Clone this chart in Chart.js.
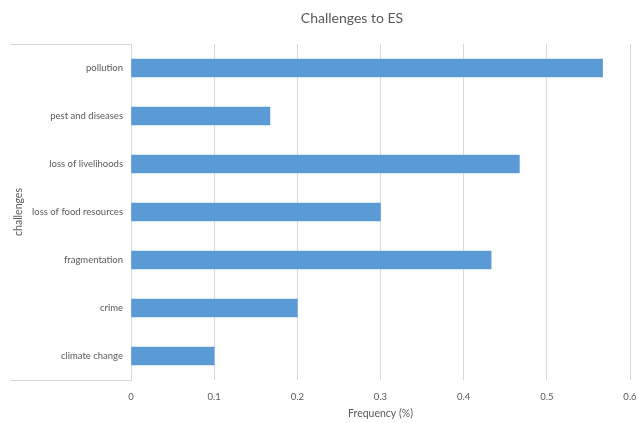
<!DOCTYPE html>
<html>
<head>
<meta charset="utf-8">
<script src="https://cdn.jsdelivr.net/npm/chart.js@4/dist/chart.umd.min.js"></script>
<style>
  html, body { margin: 0; padding: 0; background: #fff; }
</style>
</head>
<body>
<canvas id="chart" width="636" height="423"></canvas>
<script>
const categories = ["pollution", "pest and diseases", "loss of livelihoods", "loss of food resources", "fragmentation", "crime", "climate change"];
const frequency = [0.567, 0.167, 0.467, 0.3, 0.433, 0.2, 0.1];
const chartTitle = "Challenges to ES";

const grey = "#d9d9d9";
const textColor = "#595959";
const fontName = "Lato";

// title + the two short category-axis lines (top and bottom of the label column)
const decor = {
  id: "decor",
  afterDraw(chart) {
    const ctx = chart.ctx;
    const a = chart.chartArea;
    ctx.save();
    ctx.strokeStyle = grey;
    ctx.lineWidth = 1;
    ctx.beginPath();
    ctx.moveTo(10, a.top + 0.5);
    ctx.lineTo(a.left, a.top + 0.5);
    ctx.moveTo(10, a.bottom + 0.5);
    ctx.lineTo(a.left, a.bottom + 0.5);
    ctx.stroke();
    ctx.fillStyle = textColor;
    ctx.font = "14px " + fontName;
    ctx.textAlign = "center";
    ctx.textBaseline = "middle";
    ctx.fillText(chartTitle, 352, 18);
    ctx.restore();
  }
};

new Chart(document.getElementById("chart"), {
  type: "bar",
  data: {
    labels: categories,
    datasets: [{
      label: "Frequency (%)",
      data: frequency,
      backgroundColor: "#5b9bd5",
      borderWidth: 0,
      barThickness: 18
    }]
  },
  options: {
    indexAxis: "y",
    responsive: false,
    animation: false,
    layout: { padding: { left: 10, right: 6, top: 44, bottom: 0 } },
    plugins: {
      legend: { display: false },
      title: { display: false },
      tooltip: { enabled: false }
    },
    scales: {
      x: {
        min: 0,
        max: 0.6,
        ticks: { stepSize: 0.1, padding: 11, color: textColor, font: { family: fontName, size: 9.5 } },
        grid: { color: grey, drawTicks: false },
        border: { display: false },
        title: { display: true, text: "Frequency (%)", color: textColor, font: { family: fontName, size: 10.5 }, padding: { top: 0, bottom: 3 } },
        afterFit(scale) {
          scale.height = 43;
          scale.paddingLeft = 0;
          scale.paddingRight = 0;
        }
      },
      y: {
        ticks: { padding: 8, color: textColor, font: { family: fontName, size: 9.5 } },
        grid: { display: false, drawTicks: false },
        border: { display: true, color: grey },
        title: { display: true, text: "challenges", color: textColor, font: { family: fontName, size: 10.5 }, padding: { top: 2, bottom: 0 } },
        afterFit(scale) {
          scale.width = 121;
        }
      }
    }
  },
  plugins: [decor]
});
</script>
</body>
</html>
